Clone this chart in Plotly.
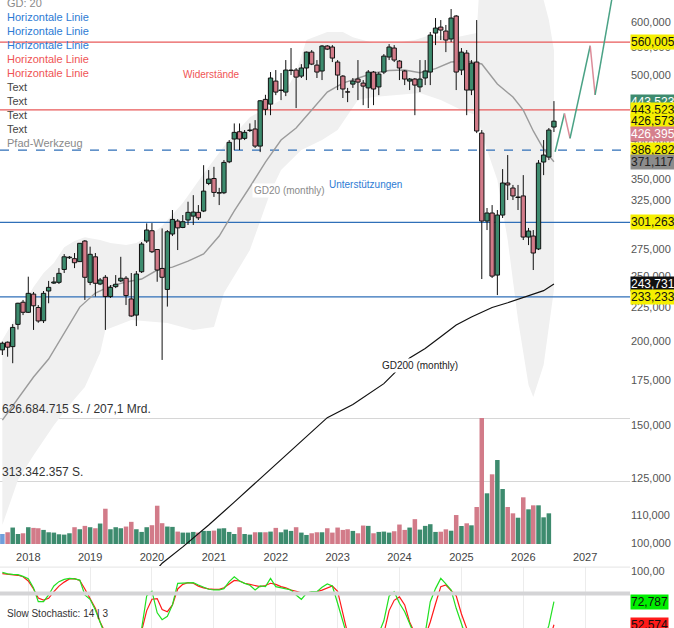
# Monatschart mit Volumen und Slow Stochastic

# %% Bibliotecas
import numpy as np
import pandas as pd
import plotly.graph_objects as go

# %% Kursdaten (Monatskerzen Aug 2017 - Jul 2026, Werte in Tsd.)
monate = pd.date_range('2017-08-01', periods=108, freq='MS')

eroeffnung = [194.3, 199.5, 196.5, 212.1, 228.9, 221.1, 235.4, 224.8, 214.8, 237.9,
              244.5, 245.1, 256.2, 266.7, 265.9, 263.2, 282.5, 245.1, 267.6, 243.7,
              249.4, 233.4, 241.5, 246.3, 248.6, 231.5, 219.0, 254.2, 282.5, 292.7,
              274.4, 257.1, 239.2, 289.4, 302.6, 296.0, 303.7, 307.8, 311.8, 313.2,
              344.4, 350.3, 333.1, 333.5, 371.0, 401.2, 411.4, 402.1, 413.1, 415.3,
              391.6, 459.8, 452.4, 489.7, 474.0, 471.5, 507.7, 508.6, 498.1, 512.2,
              541.0, 517.3, 506.9, 552.4, 550.5, 522.8, 498.1, 471.9, 484.6, 493.1,
              486.3, 478.3, 505.1, 479.9, 505.1, 531.9, 548.6, 524.6, 506.9, 489.7,
              493.1, 479.9, 494.9, 505.1, 577.6, 589.6, 581.6, 565.9, 612.4, 508.6,
              539.2, 474.8, 522.8, 409.5, 302.6, 311.1, 251.3, 308.9, 344.9, 339.0,
              328.1, 329.9, 286.4, 287.4, 274.9, 370.7, 377.1, 418.1]
hoch = [199.9, 200.0, 212.3, 228.5, 230.7, 249.9, 237.1, 226.7, 237.9, 246.3,
        249.6, 257.4, 270.1, 268.3, 271.1, 280.6, 283.5, 277.1, 271.1, 248.8,
        251.3, 242.8, 251.3, 267.6, 250.4, 253.1, 254.8, 281.5, 300.2, 300.5,
        274.7, 295.0, 293.4, 314.3, 304.6, 308.9, 323.4, 330.8, 319.7, 366.7,
        360.6, 364.6, 339.2, 373.2, 399.8, 423.3, 423.3, 413.8, 423.3, 428.2,
        458.7, 467.1, 505.1, 508.6, 503.4, 526.4, 548.6, 512.2, 519.1, 542.0,
        544.8, 526.4, 554.2, 554.2, 554.2, 526.4, 499.9, 478.3, 494.9, 526.4,
        491.4, 508.6, 506.9, 505.1, 537.3, 556.1, 554.2, 526.4, 508.6, 494.9,
        494.9, 526.4, 526.4, 579.6, 608.2, 604.0, 593.9, 627.4, 614.5, 548.6,
        544.8, 526.4, 604.0, 413.8, 316.5, 319.7, 314.3, 361.8, 379.7, 342.6,
        342.6, 354.4, 295.5, 293.4, 373.2, 399.8, 416.7, 457.1]
tief = [190.9, 189.8, 185.6, 208.4, 219.0, 220.6, 208.1, 213.3, 213.1, 228.1,
        243.7, 243.7, 253.1, 265.6, 257.4, 262.9, 230.7, 242.8, 233.4, 242.8,
        208.1, 232.3, 240.3, 245.4, 226.7, 217.7, 210.9, 253.1, 280.6, 271.1,
        245.6, 187.7, 225.5, 287.4, 273.9, 295.3, 298.5, 298.5, 303.7, 312.1,
        342.4, 328.8, 319.7, 332.0, 369.3, 386.3, 386.3, 399.8, 411.0, 389.0,
        383.6, 435.5, 435.5, 466.6, 458.7, 465.0, 499.9, 446.3, 494.9, 491.4,
        517.3, 494.9, 491.4, 544.8, 522.8, 474.8, 462.0, 455.5, 478.3, 458.7,
        450.8, 446.3, 450.8, 466.6, 501.6, 526.4, 522.8, 491.4, 483.0, 474.8,
        435.5, 471.5, 483.0, 483.0, 554.2, 563.9, 541.0, 560.0, 474.8, 499.9,
        435.5, 466.6, 409.5, 247.9, 293.4, 248.8, 234.6, 305.8, 325.3, 325.3,
        314.3, 283.5, 278.6, 255.7, 273.9, 354.4, 373.2, 411.0]
schluss = [198.8, 196.1, 209.9, 228.1, 221.1, 236.0, 226.1, 214.6, 236.0, 240.9,
           245.4, 252.8, 267.6, 267.3, 262.2, 280.3, 249.4, 269.9, 244.3, 247.1,
           233.4, 240.9, 243.5, 248.6, 234.2, 218.3, 252.2, 279.6, 293.4, 272.3,
           255.7, 249.4, 291.7, 304.3, 295.6, 301.9, 311.8, 312.1, 306.0, 335.4,
           349.6, 333.9, 333.7, 370.2, 396.7, 410.5, 401.2, 410.5, 413.8, 391.6,
           457.6, 444.3, 494.9, 471.5, 474.8, 508.6, 508.6, 496.4, 512.2, 541.0,
           519.1, 505.1, 552.4, 546.6, 530.0, 499.9, 476.5, 471.5, 489.7, 488.0,
           481.3, 505.1, 476.5, 501.6, 533.6, 550.5, 526.4, 512.2, 493.1, 493.1,
           483.0, 493.1, 506.9, 573.6, 587.6, 583.6, 563.9, 608.2, 505.1, 541.0,
           474.8, 520.9, 412.4, 302.6, 311.1, 250.4, 308.9, 344.9, 342.6, 329.9,
           328.7, 286.4, 292.4, 271.1, 369.3, 379.7, 413.8, 426.573]

# Volumen in Mio. Stueck (laufender Monat ohne Balken)
volumen = [50.0, 58.5, 81.9, 50.0, 53.5, 83.6, 80.2, 78.5, 70.2, 58.5,
           56.8, 48.5, 46.8, 53.5, 83.6, 73.5, 90.2, 83.6, 78.5, 101.9,
           175.5, 73.5, 83.6, 78.5, 86.9, 110.3, 73.5, 60.2, 83.6, 93.6,
           190.5, 103.6, 86.9, 85.2, 61.8, 56.8, 56.8, 60.2, 56.8, 65.2,
           65.2, 66.8, 76.9, 78.5, 60.2, 50.0, 83.6, 50.0, 46.8, 58.5,
           58.5, 58.5, 61.8, 80.2, 58.5, 71.8, 65.2, 83.6, 56.8, 45.1,
           53.5, 58.5, 58.5, 78.5, 56.8, 81.9, 70.2, 73.5, 65.2, 53.5,
           91.9, 90.2, 53.5, 60.2, 61.8, 56.8, 63.5, 96.9, 70.2, 81.9,
           123.7, 71.8, 90.2, 98.6, 60.2, 61.2, 73.1, 66.2, 144.2, 89.5,
           103.0, 93.0, 184.0, 626.684715, 252.2, 346.7, 417.8, 273.6, 184.0, 152.7,
           130.8, 232.3, 172.6, 192.5, 192.5, 132.8, 152.7, None]

# %% Indikatoren (vom Chart abgelesen, Tsd.)
gd20_datum = ['2017-08-01', '2017-11-01', '2018-02-01', '2018-05-01', '2018-08-01', '2018-11-01',
              '2019-02-01', '2019-05-01', '2019-08-01', '2019-11-01', '2020-02-01', '2020-05-01',
              '2020-08-01', '2020-11-01', '2021-02-01', '2021-05-01', '2021-08-01', '2021-11-01',
              '2022-02-01', '2022-05-01', '2022-08-01', '2022-11-01', '2023-02-01', '2023-05-01',
              '2023-08-01', '2023-11-01', '2024-02-01', '2024-05-01', '2024-08-01', '2024-11-01',
              '2025-02-01', '2025-05-01', '2025-08-01', '2025-11-01', '2026-01-01', '2026-03-01',
              '2026-05-01', '2026-07-01']
gd20 = [152.6, 164.1, 177.0, 188.3, 205.9, 225.1, 236.2, 242.0, 245.4, 247.9, 255.7, 258.3,
        263.7, 270.2, 287.4, 313.3, 340.2, 370.7, 399.9, 416.8, 443.3, 471.6, 486.4, 494.8,
        503.4, 507.7, 508.6, 504.0, 511.2, 522.8, 524.6, 519.3, 484.8, 463.6, 443.2, 412.5,
        387.6, 371.117]

gd200_datum = ['2020-02-01', '2020-03-01', '2020-07-01', '2020-12-01', '2021-05-01', '2021-11-01',
               '2022-05-01', '2022-11-01', '2023-04-01', '2023-10-01', '2024-03-01', '2024-06-01',
               '2024-09-01', '2024-12-01', '2025-03-01', '2025-07-01', '2025-10-01', '2026-02-01',
               '2026-05-01', '2026-07-01']
gd200 = [91.5, 93.3, 98.7, 106.4, 115.1, 127.0, 139.7, 153.9, 161.0, 173.0, 189.0, 195.3,
         203.3, 211.6, 217.5, 224.8, 228.5, 233.9, 238.2, 243.731]

band_oben_datum = ['2017-08-01', '2017-11-01', '2018-02-01', '2018-04-01', '2018-06-01', '2018-08-01',
                   '2018-10-01', '2018-12-01', '2019-03-01', '2019-05-01', '2019-08-01', '2019-10-01',
                   '2020-01-01', '2020-03-01', '2020-07-01', '2020-10-01', '2021-03-01', '2021-08-01',
                   '2022-02-01', '2022-05-01', '2022-07-01', '2022-11-01', '2023-02-01', '2023-04-01',
                   '2023-08-01', '2023-12-01', '2024-04-01', '2024-07-01', '2024-12-01', '2025-04-01',
                   '2025-05-01', '2025-08-01', '2025-12-01', '2026-04-01', '2026-05-01', '2026-06-01',
                   '2026-07-01']
band_oben = [201.1, 220.6, 241.2, 253.1, 262.0, 276.6, 282.5, 286.3, 283.5, 280.6, 278.6, 280.6,
             289.4, 297.4, 321.9, 347.2, 391.5, 432.5, 458.7, 505.0, 563.9, 579.6, 579.6, 569.5,
             558.1, 558.1, 563.9, 573.6, 569.5, 577.6, 780.0, 900.0, 900.0, 760.0, 647.0, 604.0,
             545.0]

band_unten_datum = ['2017-08-01', '2017-11-01', '2018-02-01', '2018-06-01', '2018-09-01', '2018-12-01',
                    '2019-03-01', '2019-04-01', '2019-09-01', '2020-04-01', '2020-09-01', '2021-01-01',
                    '2021-03-01', '2021-08-01', '2021-12-01', '2022-02-01', '2022-06-01', '2022-10-01',
                    '2023-01-01', '2023-05-01', '2023-08-01', '2024-05-01', '2024-09-01', '2025-01-01',
                    '2025-04-01', '2025-06-01', '2025-08-01', '2025-10-01', '2025-12-01', '2026-02-01',
                    '2026-03-01', '2026-05-01', '2026-07-01']
band_unten = [106.4, 124.2, 135.3, 150.0, 160.7, 171.0, 192.2, 208.1, 215.3, 213.1, 208.1, 210.2,
              236.2, 273.9, 334.3, 360.6, 386.3, 399.8, 413.8, 458.7, 463.5, 469.9, 458.7, 443.2,
              435.5, 386.3, 348.4, 283.5, 215.3, 172.2, 165.2, 184.5, 238.7]

# Slow Stochastic 14/3
stoch_k = [98.6, 97.3, 96.8, 96.5, 95.0, 93.0, 84.8, 72.8, 72.8, 78.7,
           86.6, 90.4, 92.4, 93.3, 92.8, 91.8, 78.7, 74.9, 65.5, 53.8,
           38, 22, 12, 8, 10, 15, 28, 49, 78, 82,
           63, 57, 60, 70, 88.9, 88.9, 89.0, 89.5, 87.5, 85.5,
           83.7, 83.1, 83.1, 84.3, 90.4, 94.7, 91.0, 88.9, 87.2, 83.1,
           86.6, 86.0, 93.3, 86.0, 85.0, 84.3, 83.1, 78.7, 74.9, 80.2,
           81.6, 81.6, 85.5, 88.4, 86.6, 71.4, 53.8, 32, 18, 10,
           12, 18, 30, 45, 56, 77.8, 81.6, 71.4, 64.0, 53.8,
           40, 32, 45, 72.8, 84.3, 93.3, 88.4, 83.1, 67.0, 50.3,
           40, 35, 20, 10, 8, 6, 10, 18, 22, 18,
           14, 8, 6, 5, 20, 38, 52, 72.787]
stoch_d = [97.5, 97.0, 96.8, 96.0, 94.7, 91.0, 84.0, 76.0, 74.3, 75.8,
           81.6, 86.5, 90.0, 92.8, 93.0, 91.5, 84.0, 76.0, 67.0, 55.0,
           45, 30, 15, 10, 8, 10, 20, 47, 65, 75,
           75.5, 66, 64, 70, 84, 88, 89.5, 89, 86.5, 85,
           84, 83.7, 83.7, 85, 88, 91.5, 91, 89, 88, 87,
           86, 87, 89, 88, 86, 85, 83, 82, 80.7, 80.5,
           81, 81.6, 83, 85, 86.6, 82, 62, 45, 30, 18,
           12, 13, 20, 30, 45, 65, 74, 77, 70, 55,
           45, 38, 42, 55, 71, 86, 87.5, 83, 78, 62,
           47, 38, 30, 20, 12, 8, 8, 12, 17, 19,
           18, 13, 9, 6, 10, 21, 37, 52.574]

# %% Zeichnungen
linien_wert = [560005, 443523, 386282, 301263, 233233]
linien_farbe = ['#e85a5a', '#e85a5a', '#2f6fb8', '#2f6fb8', '#2f6fb8']
linien_stil = ['solid', 'solid', 'dash', 'solid', 'solid']

pfad_datum = ['2026-07-08', '2026-09-01', '2026-10-04', '2027-01-31', '2027-03-01', '2027-06-15']
pfad_wert = [384000, 438000, 402000, 553000, 467000, 665000]

jahre = list(range(2018, 2028))

# %% Figur
x_bereich = ['2017-07-18', '2027-09-23']
GRUEN = '#3d8b6e'
ROT = '#d27b89'
BLAU = '#2d7bd4'
SCHRIFT = 'Liberation Sans, Arial, sans-serif'

o = np.array(eroeffnung) * 1000
h = np.array(hoch) * 1000
l = np.array(tief) * 1000
c = np.array(schluss) * 1000
koerper_unten = np.minimum(o, c)
koerper_oben = np.maximum(o, c)
steigend = c >= o

fig = go.Figure()

# Volumen (Basisachse y)
farben = [GRUEN if s else ROT for s in steigend]
farben[0] = '#6f9fdc'
fig.add_trace(go.Bar(x=monate, y=[v * 1e6 if v is not None else None for v in volumen],
                     marker=dict(color=farben, line=dict(width=0)),
                     width=2.3e9, xaxis='x', yaxis='y', hoverinfo='skip'))

# Band GD 20 (y2, unter den Kerzen)
band_x = list(pd.to_datetime(band_oben_datum)) + list(pd.to_datetime(band_unten_datum))[::-1]
band_y = [v * 1000 for v in band_oben] + [v * 1000 for v in band_unten][::-1]
fig.add_trace(go.Scatter(x=band_x, y=band_y, fill='toself', fillcolor='#f0f0f0',
                         line=dict(width=0), mode='lines', xaxis='x', yaxis='y2', hoverinfo='skip'))

# Horizontale Linien
for wert, farbe, stil in zip(linien_wert, linien_farbe, linien_stil):
    fig.add_trace(go.Scatter(x=x_bereich, y=[wert, wert], mode='lines',
                             line=dict(color=farbe, width=1.2, dash=stil),
                             xaxis='x', yaxis='y2', hoverinfo='skip'))

fig.add_trace(go.Scatter(x=pd.to_datetime(gd20_datum), y=[v * 1000 for v in gd20], mode='lines',
                         line=dict(color='#9b9b9b', width=1.4), xaxis='x', yaxis='y2', hoverinfo='skip'))
fig.add_trace(go.Scatter(x=pd.to_datetime(gd200_datum), y=[v * 1000 for v in gd200], mode='lines',
                         line=dict(color='#111111', width=1.2), xaxis='x', yaxis='y2', hoverinfo='skip'))

# Kerzen (y4, ueber allem anderen)
docht_x, docht_y = [], []
for d, hh, ll, ko, ku in zip(monate, h, l, koerper_oben, koerper_unten):
    docht_x += [d, d, None, d, d, None]
    docht_y += [hh, ko, None, ku, ll, None]
fig.add_trace(go.Scatter(x=docht_x, y=docht_y, mode='lines', line=dict(color='#111111', width=1),
                         xaxis='x', yaxis='y4', hoverinfo='skip'))
fig.add_trace(go.Bar(x=monate, base=koerper_unten, y=koerper_oben - koerper_unten,
                     marker=dict(color=[GRUEN if s else ROT for s in steigend],
                                 line=dict(color='#111111', width=1)),
                     width=2.2e9, xaxis='x', yaxis='y4', hoverinfo='skip'))

# Pfad-Werkzeug
pfad_x = pd.to_datetime(pfad_datum)
for i in range(len(pfad_wert) - 1):
    farbe = '#4aa285' if pfad_wert[i + 1] > pfad_wert[i] else '#dc8c99'
    fig.add_trace(go.Scatter(x=pfad_x[i:i + 2], y=pfad_wert[i:i + 2], mode='lines',
                             line=dict(color=farbe, width=1.5), xaxis='x', yaxis='y4',
                             hoverinfo='skip'))

# Stochastik
fig.add_trace(go.Scatter(x=monate, y=stoch_d, mode='lines', line=dict(color='#ff1a1a', width=1.2),
                         xaxis='x2', yaxis='y3', hoverinfo='skip'))
fig.add_trace(go.Scatter(x=monate, y=stoch_k, mode='lines', line=dict(color='#22e022', width=1.2),
                         xaxis='x2', yaxis='y3', hoverinfo='skip'))

# %% Beschriftungen
anm = []

legende = ['GD: 20', 'Horizontale Linie', 'Horizontale Linie', 'Horizontale Linie',
           'Horizontale Linie', 'Horizontale Linie', 'Text', 'Text', 'Text', 'Text', 'Pfad-Werkzeug']
legende_farbe = ['#8a8a8a', BLAU, BLAU, BLAU, '#ef5454', '#ef5454',
                 '#454545', '#454545', '#454545', '#454545', '#8a8a8a']
for i, (txt, farbe) in enumerate(zip(legende, legende_farbe)):
    anm.append(dict(text=txt, x=0.008, xref='paper', xanchor='left',
                    y=1 - (3.3 + 13.93 * i) / 628, yref='paper', yanchor='middle',
                    showarrow=False, font=dict(size=11, color=farbe)))

texte = [('Widerstände', '2020-12-20', 501700, '#ef5454', None),
         ('Unterstützungen', '2023-06-15', 343500, BLAU, None),
         ('GD20 (monthly)', '2022-03-25', 336600, '#8a8a8a', 'white'),
         ('GD200 (monthly)', '2024-05-01', 184100, '#222222', 'white')]
for txt, xd, yw, farbe, bg in texte:
    anm.append(dict(text=txt, x=xd, xref='x', y=np.log10(yw), yref='y2', showarrow=False,
                    font=dict(size=10, color=farbe), bgcolor=bg, borderpad=1))

anm.append(dict(text='626.684.715 S. / 207,1 Mrd.', x=0, xref='paper', xanchor='left',
                y=626684715, yref='y', yanchor='bottom', showarrow=False,
                font=dict(size=12, color='#333333')))
anm.append(dict(text='313.342.357 S.', x=0, xref='paper', xanchor='left',
                y=313342357, yref='y', yanchor='bottom', showarrow=False,
                font=dict(size=12, color='#333333')))

# Kursmarken rechts
marken = [(443523, '#3d8b6e', 'white', 8),
          (560005, '#f5ef00', '#111111', 0),
          (443523, '#f5ef00', '#111111', 0),
          (426573, '#f5ef00', '#111111', 0),
          (426395, '#d5808d', 'white', -13),
          (386282, '#f5ef00', '#111111', 0),
          (371117, '#8c8c8c', '#222222', 0),
          (301263, '#f5ef00', '#111111', 0),
          (243731, '#111111', 'white', 0),
          (233233, '#f5ef00', '#111111', 0)]
for wert, bg, farbe, ys in marken:
    anm.append(dict(text=f'{wert:,}', x=1, xref='paper', xanchor='left', xshift=0,
                    y=np.log10(wert), yref='y2', yshift=ys, showarrow=False,
                    font=dict(size=12, color=farbe), bgcolor=bg, borderpad=0))

for wert, bg in [(stoch_k[-1], '#00f000'), (stoch_d[-1], '#ff1a1a')]:
    anm.append(dict(text=f'{wert:.3f}'.replace('.', ','), x=1, xref='paper', xanchor='left',
                    xshift=0, y=wert, yref='y3', showarrow=False,
                    font=dict(size=12, color='#111111'), bgcolor=bg, borderpad=0))

anm.append(dict(text='Slow Stochastic: 14 | 3', x=0.008, xref='paper', xanchor='left',
                y=1 - 621 / 628, yref='paper', showarrow=False,
                font=dict(size=10, color='#333333')))

formen = [
    dict(type='line', xref='paper', x0=0, x1=1, yref='y3', y0=80, y1=80,
         line=dict(color='#d4d4d6', width=4)),
    dict(type='line', xref='paper', x0=0, x1=1, yref='paper', y0=0.097, y1=0.097,
         line=dict(color='#e4e4e4', width=1)),
]

preis_ticks = [100000, 110000, 125000, 150000, 175000, 200000, 225000, 250000, 275000, 300000,
               325000, 350000, 375000, 400000, 450000, 500000, 550000, 600000, 650000]
preis_achse = dict(type='log', range=[4.9657, 5.8110], zeroline=False, showgrid=False,
                   automargin=False)

fig.update_layout(
    width=674, height=628,
    margin=dict(l=0, r=44, t=0, b=0, autoexpand=False),
    paper_bgcolor='white', plot_bgcolor='white',
    font=dict(family=SCHRIFT, size=11, color='#555555'),
    showlegend=False, barmode='overlay',
    xaxis=dict(type='date', range=x_bereich, domain=[0, 1], anchor='y',
               showgrid=False, showticklabels=False, zeroline=False, automargin=False,
               rangeslider=dict(visible=False)),
    yaxis=dict(domain=[0.0987, 1], range=[-109.4e6, 2705.7e6], showticklabels=False,
               tickvals=[313342357, 626684715], showgrid=True, gridcolor='#d6d6d6',
               zeroline=False, automargin=False),
    yaxis2=dict(preis_achse, overlaying='y', side='right', anchor='x',
                tickvals=preis_ticks, tickformat=',d', ticks='',
                tickfont=dict(size=11, color='#555555')),
    yaxis4=dict(preis_achse, overlaying='y', side='right', anchor='x', visible=False),
    xaxis2=dict(type='date', range=x_bereich, domain=[0, 1], anchor='y3', matches='x',
                side='top', tickvals=[f'{j}-01-01' for j in jahre],
                ticktext=[str(j) for j in jahre], showgrid=True, gridcolor='#ececec',
                ticks='', ticklabelstandoff=3, tickfont=dict(size=11, color='#444444'),
                zeroline=False, automargin=False),
    yaxis3=dict(domain=[0, 0.097], range=[49.7, 103.2], side='right', anchor='x2',
                tickvals=[100], ticktext=['100,00'], showgrid=False, zeroline=False,
                ticks='', tickfont=dict(size=11, color='#555555'), automargin=False),
    annotations=anm,
    shapes=formen,
)

# Seitenrand des Browsers entfernen, damit die Grafik bündig oben links sitzt
fig.write_html("out.html", config={'displayModeBar': False},
               post_script="document.body.style.margin='0';")
